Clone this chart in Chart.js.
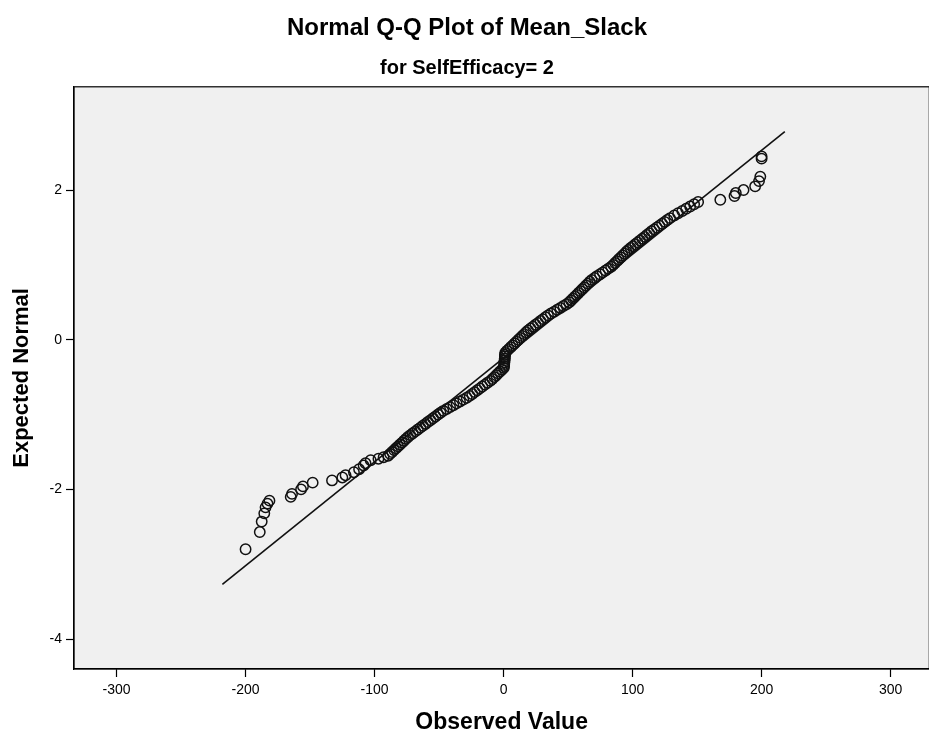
<!DOCTYPE html>
<html>
<head>
<meta charset="utf-8">
<title>Normal Q-Q Plot of Mean_Slack</title>
<script src="https://cdn.jsdelivr.net/npm/chart.js@4/dist/chart.umd.min.js"></script>
<style>
   html, body { margin: 0; padding: 0; background: #fff; overflow: hidden; }
</style>
</head>
<body>
<canvas id="qqChart" width="936" height="738"></canvas>
<script>
const observed = [
   -200, -189, -187.5, -185.5, -184.5, -183, -181.5, -165, -164, -157, -155.5, -148, -133, -125, -122.5, -116,
   -112, -108.5, -107, -103, -97, -93,
   -89.5, -88.0, -86.4, -84.9, -83.4, -81.8, -80.3, -78.7, -77.2, -75.7, -74.1, -72.3, -70.4, -68.4, -66.5,
   -64.5, -62.6, -60.6, -58.7, -56.7, -54.7, -52.8, -50.8, -48.9, -46.7, -44.1, -41.5, -38.9, -36.4, -33.8,
   -31.2, -28.6, -26.3, -24.3, -22.4, -20.4, -18.4, -16.5, -14.5, -12.5, -10.3, -8.7, -7.2, -5.7, -4.3, -2.8,
   -1.3, 0.2, 0.4, 0.5, 0.6, 0.8, 0.9, 1.0, 1.1, 1.3, 2.5, 4.0, 5.5, 7.0, 8.5, 10.0, 11.5, 13.0, 14.5, 16.0,
   17.5, 19.0, 20.9, 22.8, 24.7, 26.7, 28.6, 30.5, 32.5, 34.4, 36.7, 39.2, 41.6, 44.0, 46.4, 48.8, 50.9, 52.3,
   53.8, 55.2, 56.7, 58.1, 59.6, 61.0, 62.5, 63.9, 65.4, 66.8, 68.3, 70.5, 72.3, 74.8, 76.9, 79.1, 81.2, 83.4,
   85.0, 86.4, 87.9, 89.3, 90.8, 92.3, 93.8, 95.2, 96.7, 98.5, 100.3, 102.1, 103.9, 105.7, 107.5, 109.3, 111.1,
   112.9, 114.7, 116.7, 118.8, 120.8, 122.9, 124.9, 126.9, 129.0, 132.3, 135.3, 138.5, 141.5, 144.6, 147.7,
   150.8,
   168, 179, 180, 186, 195, 198, 199, 200, 200
];
const expected = [
   -2.80, -2.57, -2.43, -2.32, -2.24, -2.19, -2.15, -2.10, -2.06, -2.00, -1.96, -1.91, -1.88, -1.84, -1.81, -1.77,
   -1.73, -1.68, -1.65, -1.61, -1.59, -1.57,
   -1.55, -1.525, -1.50, -1.475, -1.45, -1.425, -1.40, -1.375, -1.35, -1.325, -1.30, -1.275, -1.25, -1.225, -1.20,
   -1.175, -1.15, -1.125, -1.10, -1.075, -1.05, -1.025, -1.00, -0.975, -0.95, -0.925, -0.90, -0.875, -0.85, -0.825,
   -0.80, -0.775, -0.75, -0.725, -0.70, -0.675, -0.65, -0.625, -0.60, -0.575, -0.55, -0.525, -0.50, -0.475, -0.45, -0.425,
   -0.40, -0.375, -0.35, -0.325, -0.30, -0.275, -0.25, -0.225, -0.20, -0.175, -0.15, -0.125, -0.10, -0.075, -0.05, -0.025, 0, 0.025, 0.05, 0.075,
   0.10, 0.125, 0.15, 0.175, 0.20, 0.225, 0.25, 0.275, 0.30, 0.325, 0.35, 0.375, 0.40, 0.425, 0.45, 0.475, 0.50, 0.525,
   0.55, 0.575, 0.60, 0.625, 0.65, 0.675, 0.70, 0.725, 0.75, 0.775, 0.80, 0.825, 0.85, 0.875, 0.90, 0.925, 0.95, 0.975,
   1.00, 1.025, 1.05, 1.075, 1.10, 1.125, 1.15, 1.175, 1.20, 1.225, 1.25, 1.275, 1.30, 1.325, 1.35, 1.375, 1.40,
   1.425, 1.45, 1.475, 1.50, 1.525, 1.55, 1.575, 1.60, 1.625, 1.66, 1.69, 1.72, 1.75, 1.78, 1.81,
   1.84,
   1.87, 1.92, 1.96, 2.00, 2.05, 2.12, 2.18, 2.42, 2.45
];

// reference line end points
const lineX = [-218, 218];
const lineY = [-3.27, 2.78];

const xTicks = [-300, -200, -100, 0, 100, 200, 300];
const yTicks = [-4, -2, 0, 2];

// grey plot area with a black frame
const plotFrame = {
   id: "plotFrame",
   beforeDraw(chart) {
      const { ctx, chartArea } = chart;
      ctx.save();
      ctx.fillStyle = "#f0f0f0";
      ctx.fillRect(chartArea.left, chartArea.top, chartArea.right - chartArea.left, chartArea.bottom - chartArea.top);
      ctx.strokeStyle = "#000";
      ctx.lineWidth = 1.2;
      ctx.strokeRect(chartArea.left, chartArea.top, chartArea.right - chartArea.left, chartArea.bottom - chartArea.top);
      ctx.restore();
   },
};

let points = observed.map((v, i) => ({ x: v, y: expected[i] }));
let linePts = lineX.map((v, i) => ({ x: v, y: lineY[i] }));

const font = "'Liberation Sans', Arial, sans-serif";

new Chart(document.getElementById("qqChart"), {
   type: "scatter",
   data: {
      datasets: [
         {
            type: "line",
            data: linePts,
            borderColor: "#111",
            borderWidth: 1.6,
            pointRadius: 0,
            fill: false,
         },
         {
            data: points,
            pointStyle: "circle",
            pointRadius: 5.2,
            pointBackgroundColor: "rgba(0,0,0,0)",
            pointBorderColor: "#111",
            pointBorderWidth: 1.5,
         },
      ],
   },
   options: {
      responsive: false,
      animation: false,
      events: [],
      layout: { padding: { left: 0, right: 2, top: 0, bottom: 0 } },
      plugins: {
         legend: { display: false },
         tooltip: { enabled: false },
         title: {
            display: true,
            text: "Normal Q-Q Plot of Mean_Slack",
            color: "#000",
            font: { family: font, size: 24, weight: "bold" },
            padding: { top: 14, bottom: 8 },
         },
         subtitle: {
            display: true,
            text: "for SelfEfficacy= 2",
            color: "#000",
            font: { family: font, size: 20, weight: "bold" },
            padding: { top: 6, bottom: 6 },
         },
      },
      scales: {
         x: {
            type: "linear",
            min: -333,
            max: 330,
            bounds: "data",
            afterBuildTicks: (axis) => {
               axis.ticks = xTicks.map((v) => ({ value: v }));
            },
            afterFit: (axis) => {
               axis.height = 69;
            },
            grid: { drawOnChartArea: false, drawTicks: true, tickLength: 8, tickColor: "#000", tickWidth: 1.2 },
            border: { display: true, color: "#000", width: 1.2 },
            ticks: { color: "#000", padding: 5, maxRotation: 0, font: { family: font, size: 14 } },
            title: {
               display: true,
               text: "Observed Value",
               color: "#000",
               font: { family: font, size: 23, weight: "bold" },
               padding: { top: 0, bottom: 2 },
            },
         },
         y: {
            type: "linear",
            min: -4.4,
            max: 3.38,
            bounds: "data",
            afterBuildTicks: (axis) => {
               axis.ticks = yTicks.map((v) => ({ value: v }));
            },
            afterFit: (axis) => {
               axis.width = 74;
            },
            grid: { drawOnChartArea: false, drawTicks: true, tickLength: 8, tickColor: "#000", tickWidth: 1.2 },
            border: { display: true, color: "#000", width: 1.2 },
            ticks: { color: "#000", padding: 4, font: { family: font, size: 14 } },
            title: {
               display: true,
               text: "Expected Normal",
               color: "#000",
               font: { family: font, size: 22, weight: "bold" },
               padding: { top: 9, bottom: 0 },
            },
         },
      },
   },
   plugins: [plotFrame],
});
</script>
</body>
</html>
